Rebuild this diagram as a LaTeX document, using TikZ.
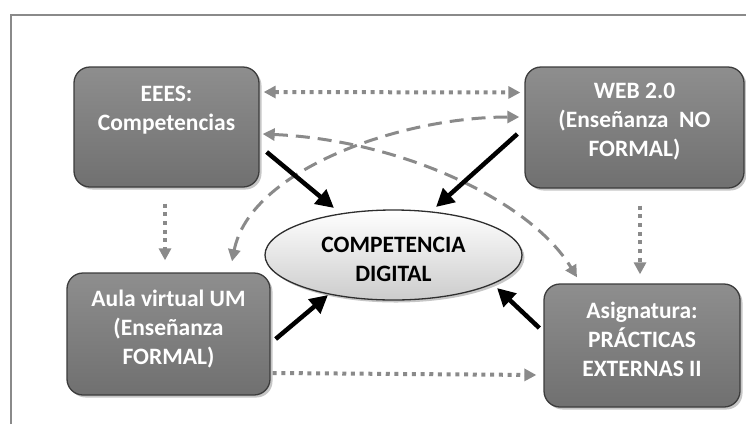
\documentclass[tikz,border=0pt]{standalone}
\usepackage{fontspec}
\setmainfont{Carlito}
\usetikzlibrary{arrows.meta,calc,shadows,shapes.geometric}
\definecolor{framegray}{HTML}{8A8A8A}
\definecolor{boxtop}{HTML}{8E8E8E}
\definecolor{boxbottom}{HTML}{707070}
\definecolor{boxedge}{HTML}{3C3C3C}
\definecolor{linkgray}{HTML}{8A8A8A}
\definecolor{ovaledge}{HTML}{2E2E2E}
\tikzset{
  topic/.style={rounded corners=16pt, draw=boxedge, line width=1.3pt,
    top color=boxtop, bottom color=boxbottom,
    drop shadow={shadow xshift=2.5pt, shadow yshift=-2.5pt, opacity=.45},
    inner sep=0pt},
  topictext/.style={font=\bfseries\fontsize{23.5}{29}\selectfont, align=center,
    text=white, inner sep=0pt},
  core/.style={ellipse, draw=ovaledge, line width=1.3pt,
    top color=white, bottom color=black!20,
    drop shadow={shadow xshift=2.5pt, shadow yshift=-2.5pt, opacity=.45},
    minimum width=257pt, minimum height=90pt, inner sep=0pt},
  coretext/.style={font=\bfseries\fontsize{23.5}{29}\selectfont, align=center,
    text=black, inner sep=0pt},
  dotlink/.style={draw=linkgray, line width=4pt, dash pattern=on 4pt off 4.7pt,
    -{Triangle[length=12pt,width=12pt]}},
  dashlink/.style={draw=linkgray, line width=3pt, dash pattern=on 14pt off 8pt,
    {Triangle[length=12pt,width=12pt]}-{Triangle[length=12pt,width=12pt]}},
  boldlink/.style={draw=black, line width=4.5pt,
    -{Triangle[length=18pt,width=18pt]}},
}
\begin{document}
\begin{tikzpicture}[x=1pt,y=-1pt]
\useasboundingbox (0,0) rectangle (746,424);
% partial frame
\draw[framegray, line width=1.5pt] (11,424) -- (11,15) -- (746,15);

% four topic boxes
\node[topic, minimum width=185pt, minimum height=120pt] (eees) at (166.5,127) {};
\node[topic, minimum width=219pt, minimum height=121pt] (web) at (634.5,127.5) {};
\node[topic, minimum width=203pt, minimum height=122pt] (aula) at (168.5,334) {};
\node[topic, minimum width=196pt, minimum height=123pt] (asig) at (642,345.5) {};

% central oval
\node[core] (dig) at (393.5,255) {};

% texts (anchored at the baseline of their last line)
\node[topictext, anchor=base] (eeesT) at ($(eees.north)+(0,64)$) {EEES:\\Competencias};
\node[topictext, anchor=base] (webT) at ($(web.north)+(0,90)$) {WEB 2.0\\(Enseñanza~~NO\\FORMAL)};
\node[topictext, anchor=base] (aulaT) at ($(aula.north)+(0,92)$) {Aula virtual UM\\(Enseñanza\\FORMAL)};
\node[topictext, anchor=base] (asigT) at ($(asig.north)+(0,93)$) {Asignatura:\\PRÁCTICAS\\EXTERNAS II};
\node[coretext, anchor=base] (digT) at ($(dig.north)+(0,72)$) {COMPETENCIA\\DIGITAL};

% dotted links
\draw[dotlink, {Triangle[length=12pt,width=12pt]}-{Triangle[length=12pt,width=12pt]}]
  ($(eees.east)+(4,-35)$) -- ($(web.west)+(-4,-35)$);
\draw[dotlink] ($(eees.south)+(-1.5,16)$) -- ($(aula.north)+(-3.5,-12)$);
\draw[dotlink] ($(web.south)+(5.5,17)$) -- ($(asig.north)+(-2,-9)$);
\draw[dotlink] ($(aula.east)+(2,39)$) -- ($(asig.west)+(-7,29.5)$);

% dashed curved links
\draw[dashlink] ($(aula.north)+(63.5,-11)$) .. controls (250,170) and (400,117) .. ($(web.west)+(-5,-10.5)$);
\draw[dashlink] ($(eees.east)+(3,7)$) .. controls (400,140) and (530,200) .. ($(asig.north)+(-65,-6)$);

% bold links into the oval
\draw[boldlink] ($(eees.east)+(7,25)$) -- ($(dig.center)+(-59.5,-47)$);
\draw[boldlink] ($(web.west)+(-7,6.5)$) -- ($(dig.center)+(42.5,-48)$);
\draw[boldlink] ($(aula.east)+(5,5)$) -- ($(dig.center)+(-65.5,40)$);
\draw[boldlink] ($(asig.west)+(-4,-17.5)$) -- ($(dig.center)+(103.5,33)$);
\end{tikzpicture}
\end{document}
